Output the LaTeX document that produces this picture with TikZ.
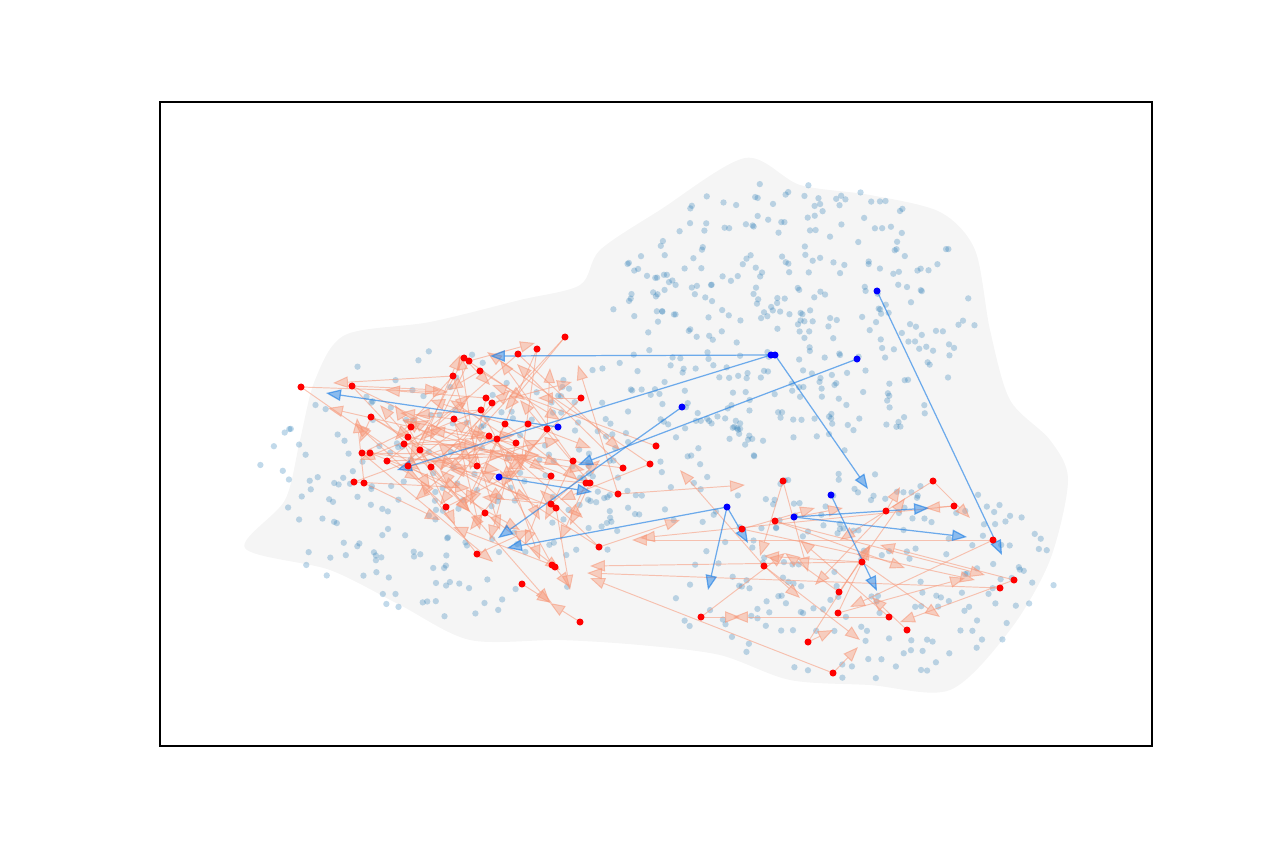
\documentclass[tikz,border=0pt]{standalone}
\usetikzlibrary{arrows.meta}
\definecolor{salmonc}{RGB}{248,150,118}
\definecolor{bluec}{RGB}{35,130,230}
\definecolor{dotc}{RGB}{31,119,180}
\definecolor{cloudc}{RGB}{245,245,245}
\tikzset{
  reddot/.style={circle,fill=red,inner sep=0pt,minimum size=4pt},
  bluedot/.style={circle,fill=blue,inner sep=0pt,minimum size=4pt},
  redarrow/.style={salmonc,draw opacity=.55,fill opacity=.42,line width=.55pt,-{Triangle[length=8.5pt,width=6.5pt]}},
  bluearrow/.style={bluec,draw opacity=.65,fill opacity=.5,line width=.7pt,-{Triangle[length=8.5pt,width=6.5pt]}},
  fdot/.style={dotc,opacity=.28},
}

\begin{document}
\begin{tikzpicture}[x=0.02cm,y=-0.02cm]
    \useasboundingbox (0,0) rectangle (1280,853);
    % edge cloud ============================================
    \fill[cloudc] plot[smooth cycle] coordinates {(600,250) (660,210) (745,158) (800,185) (870,195) (940,212) (975,250) (990,330) (1010,400) (1050,440) (1068,480) (1050,560) (1010,630) (950,690) (870,685) (790,680) (720,655) (640,645) (560,640) (470,640) (400,605) (330,570) (245,548) (285,500) (300,440) (315,380) (345,335) (430,322) (520,300) (580,285)};
    % faint nodes ===========================================
    \pgfmathsetseed{11}
    \foreach \cx/\cy/\rx/\ry/\n in {790/320/185/140/330, 450/485/195/135/200, 860/575/195/105/190, 640/450/110/90/60}{
      \foreach \k in {1,...,\n}{
        \pgfmathsetmacro\ang{360*rnd}
        \pgfmathsetmacro\rad{sqrt(rnd)}
        \fill[fdot] ({\cx+\rx*\rad*cos(\ang)},{\cy+\ry*\rad*sin(\ang)}) circle (1.8pt);
      }
    }
    % red nodes =============================================
    \foreach \x/\y [count=\i] in {301/387, 352/386, 371/417, 453/376, 464/358, 469/361, 480/371, 486/398, 481/410, 454/419,
      411/427, 408/437, 404/444, 420/450, 387/461, 362/453, 370/453, 408/466, 431/467, 477/466,
      489/436, 565/337, 537/349, 518/354, 492/403, 581/398, 505/424, 528/424, 547/429, 497/439,
      516/443, 551/476, 573/461, 586/483, 590/483, 618/494, 623/468, 656/446, 650/464, 354/482,
      364/483, 446/507, 485/513, 477/554, 551/504, 556/508, 599/547, 552/565, 555/567, 522/584,
      580/622, 783/481, 933/481, 775/521, 742/529, 764/566, 862/562, 839/592, 838/613, 701/617,
      808/642, 833/673, 954/506, 886/511, 993/540, 1014/580, 1000/588, 889/617, 907/630}
      \coordinate (r\i) at (\x,\y);
    % blue nodes ============================================
    \foreach \x/\y [count=\i] in {771/355, 775/355, 857/359, 877/291, 682/407, 558/427, 499/477, 727/507, 831/495, 794/517}
      \coordinate (b\i) at (\x,\y);
    % red edges =============================================
    \foreach \s/\tx/\ty in {4/333/383, 8/385/390, 11/328/408, 41/357/418, 3/360/442, 20/460/355, 10/400/413, 6/535/343,
      29/550/368, 36/578/365, 22/505/410, 24/620/450, 2/440/390, 1/448/392, 5/490/385, 7/448/390, 9/415/415,
      12/470/512, 13/430/489, 14/455/525, 15/420/480, 16/493/562, 17/460/488, 18/520/530, 19/550/603,
      21/583/518, 25/572/382, 26/538/398, 27/578/480, 28/591/448, 30/402/420, 31/490/540, 32/525/545,
      33/545/520, 34/560/540, 35/570/525, 37/517/364, 38/492/385, 39/487/352, 40/470/488, 42/355/423,
      43/560/570, 44/420/480, 45/482/497, 46/570/590, 47/540/490, 48/453/527, 49/570/587, 50/552/603,
      51/550/603, 2/470/512, 3/465/470, 11/520/460, 12/585/470, 13/515/435, 14/460/355, 15/540/455,
      16/430/420, 17/500/470, 18/560/440, 19/510/390, 20/405/420, 21/440/505, 23/470/505, 24/420/440,
      26/500/480, 27/430/400, 29/470/530, 30/540/560, 31/450/400, 33/500/360, 34/450/470, 35/520/400,
      36/510/455, 37/450/445, 39/560/500, 45/600/460, 46/430/460, 47/480/470, 9/360/460, 10/545/470,
      7/560/420, 8/470/470, 5/410/460, 6/430/440, 4/500/530,
      1/420/470, 2/525/470, 3/505/500, 4/395/440, 5/525/400, 9/540/520, 10/480/530, 12/380/405,
      13/480/445, 14/530/500, 15/470/395, 16/505/455, 18/470/420, 19/395/405, 20/540/440, 21/415/500,
      22/470/440, 23/520/470, 25/440/470, 27/465/505, 28/455/460, 30/560/465, 31/430/430, 32/470/430,
      40/455/445, 41/440/520, 42/520/470, 43/440/470, 44/530/530, 48/500/470}
      \draw[redarrow] (r\s) -- (\tx,\ty);
    \foreach \s/\tx/\ty in {36/745/485, 56/680/470, 57/590/566, 67/587/573, 62/590/578, 68/733/617, 65/632/540,
      63/640/538, 60/785/553, 55/815/508, 54/843/508, 52/808/572, 56/800/598, 59/870/545, 58/905/498,
      61/833/630, 62/858/647, 69/872/597, 53/970/518, 53/840/540, 63/925/508, 65/850/607, 55/975/580,
      54/985/575, 66/900/622, 58/785/553, 61/870/545, 47/680/520, 57/764/556, 64/900/487, 60/740/617,
      52/760/556, 54/905/568, 57/940/617, 59/965/578, 64/815/585, 66/880/545, 68/800/540, 56/860/640}
      \draw[redarrow] (r\s) -- (\tx,\ty);
    % blue edges ============================================
    \foreach \s/\tx/\ty in {1/490/356, 2/868/489, 1/397/470, 3/578/465, 6/326/393, 5/498/538, 7/592/492,
      8/507/548, 8/708/590, 8/748/543, 4/1002/555, 9/877/591, 10/929/508, 10/967/537}
      \draw[bluearrow] (b\s) -- (\tx,\ty);
    % dots on top
    \foreach \i in {1,...,69} \node[reddot] at (r\i) {};
    \foreach \i in {1,...,10} \node[bluedot] at (b\i) {};
    % frame
    \draw[black,line width=.9pt] (160,102) rectangle (1152,746);
\end{tikzpicture}
\end{document}
